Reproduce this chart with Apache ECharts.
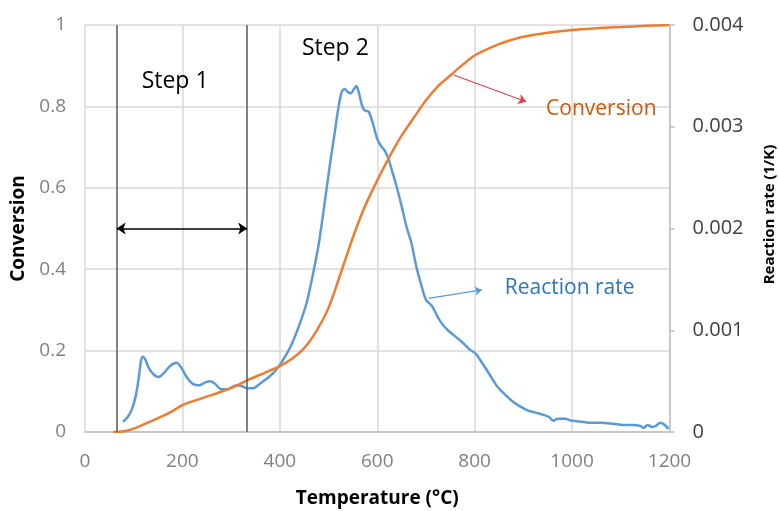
<!DOCTYPE html>
<html>
<head>
<meta charset="utf-8">
<script src="https://cdn.jsdelivr.net/npm/echarts@6/dist/echarts.min.js"></script>
<style>html,body{margin:0;padding:0;background:#fff}#c{width:778px;height:511px}</style>
</head>
<body>
<div id="c"></div>
<script>
// Conversion (left axis) : [temperature °C, conversion]
var conversion = [
  [58,0],[80,0.002],[100,0.008],[125,0.021],[150,0.034],[175,0.048],[200,0.066],[225,0.077],
  [250,0.087],[275,0.097],[300,0.108],[335,0.128],[370,0.146],[400,0.162],[425,0.180],[450,0.206],
  [475,0.248],[500,0.305],[525,0.390],[550,0.478],[575,0.555],[600,0.618],[625,0.676],[650,0.728],
  [675,0.772],[700,0.815],[725,0.850],[750,0.876],[775,0.902],[800,0.925],[825,0.940],[850,0.953],
  [875,0.963],[900,0.971],[950,0.981],[1000,0.988],[1050,0.992],[1100,0.995],[1150,0.998],[1200,1.0]
];
// Reaction rate (right axis) : [temperature °C, rate 1/K]
var reactionRate = [
  [78,0.00010],[88,0.00015],[96,0.00022],[104,0.00035],[110,0.00052],[115,0.00070],[119,0.00074],
  [124,0.00071],[132,0.00062],[142,0.00056],[151,0.00054],[162,0.00058],[175,0.00065],[188,0.00068],
  [198,0.00063],[210,0.00053],[222,0.00047],[235,0.00046],[248,0.00049],[258,0.00050],[268,0.00047],
  [280,0.00042],[292,0.00042],[302,0.00044],[312,0.00046],[322,0.00045],[334,0.00043],[345,0.00043],
  [358,0.00047],[372,0.00052],[387,0.00058],[400,0.00066],[412,0.00075],[425,0.00087],[440,0.00105],
  [455,0.00127],[468,0.00155],[480,0.00185],[492,0.00225],[502,0.00260],[512,0.00292],[520,0.00318],
  [527,0.00334],[533,0.00337],[540,0.00334],[546,0.00333],[552,0.00337],[557,0.00340],[562,0.00334],
  [568,0.00322],[574,0.00316],[582,0.00315],[590,0.00305],[600,0.00288],[608,0.00281],[616,0.00276],
  [624,0.00267],[632,0.00254],[640,0.00241],[650,0.00222],[660,0.00202],[670,0.00186],[680,0.00163],
  [690,0.00145],[700,0.00130],[712,0.00124],[722,0.00115],[732,0.00107],[745,0.00100],[760,0.00094],
  [775,0.00088],[790,0.00081],[802,0.00077],[815,0.00068],[830,0.00057],[846,0.00045],[862,0.00037],
  [878,0.00030],[894,0.00025],[910,0.00021],[925,0.00019],[940,0.00017],[952,0.00015],[962,0.00011],
  [970,0.00013],[985,0.00013],[1000,0.00011],[1020,0.00010],[1040,0.00009],[1060,0.00009],[1085,0.00008],
  [1105,0.00007],[1125,0.00007],[1140,0.00006],[1147,0.00004],[1155,0.00007],[1165,0.00005],[1172,0.00006],
  [1181,0.00009],[1190,0.00007],[1198,0.00003]
];
// Step boundaries (°C) and annotation anchors (in temperature / conversion units)
var stepBounds = [65, 333];
var stepArrowLevel = 0.5;
var stepLabels = [{text:'Step 1', x:185, y:0.861}, {text:'Step 2', x:514, y:0.943}];
var convLabel = {text:'Conversion', x:1060, y:0.793};
var rateLabel = {text:'Reaction rate', x:995, y:0.354};
var convArrow = [[757,0.877],[906,0.8115]];
var rateArrow = [[705,0.3285],[815,0.349]];

var FONT = 'Open Sans';
var chart = echarts.init(document.getElementById('c'));
chart.setOption({
  animation: false,
  grid: {left: 85, right: 108.5, top: 25, bottom: 79, containLabel: false, outerBoundsMode: 'none'},
  xAxis: {
    type: 'value', min: 0, max: 1200, interval: 200,
    name: 'Temperature (°C)', nameLocation: 'middle', nameGap: 57,
    nameTextStyle: {fontFamily: FONT, fontWeight: 'bold', fontSize: 19, color: '#000'},
    axisLine: {show: true, lineStyle: {color: '#bfbfbf', width: 1.5}},
    axisTick: {show: false},
    axisLabel: {fontFamily: FONT, fontSize: 19, color: '#808080', margin: 20,
      formatter: function (v) { return String(v); }},
    splitLine: {show: true, lineStyle: {color: '#d9d9d9', width: 1.5}}
  },
  yAxis: [{
    type: 'value', min: 0, max: 1, interval: 0.2,
    name: 'Conversion', nameLocation: 'middle', nameGap: 52,
    nameTextStyle: {fontFamily: FONT, fontWeight: 'bold', fontSize: 19, color: '#000'},
    axisLine: {show: false}, axisTick: {show: false},
    axisLabel: {fontFamily: FONT, fontSize: 19, color: '#808080', margin: 19,
      formatter: function (v) { return String(v); }},
    splitLine: {show: true, lineStyle: {color: '#d9d9d9', width: 1.5}}
  }, {
    type: 'value', min: 0, max: 0.004, interval: 0.001,
    name: 'Reaction rate (1/K)', nameLocation: 'middle', nameGap: 93,
    nameTextStyle: {fontFamily: FONT, fontWeight: 'bold', fontSize: 15, color: '#000', padding: [0, 0, 0, 28]},
    axisLine: {show: true, lineStyle: {color: '#bfbfbf', width: 1.5}},
    axisTick: {show: true, length: 5, lineStyle: {color: '#bfbfbf', width: 1.5}},
    axisLabel: {fontFamily: FONT, fontSize: 20, color: '#404040', margin: 23,
      formatter: function (v) { return String(v); }},
    splitLine: {show: false}
  }],
  series: [{
    name: 'Reaction rate', type: 'line', yAxisIndex: 1, data: reactionRate,
    showSymbol: false, smooth: 0.3, z: 3,
    lineStyle: {color: '#5b9bd5', width: 2.5}
  }, {
    name: 'Conversion', type: 'line', yAxisIndex: 0, data: conversion,
    showSymbol: false, smooth: 0.3, z: 4,
    lineStyle: {color: '#ed7d31', width: 2.5},
    markLine: {
      silent: true, symbol: ['none', 'none'], label: {show: false},
      lineStyle: {color: '#595959', width: 1.5, type: 'solid'},
      data: stepBounds.map(function (v) { return {xAxis: v}; })
    }
  }, {
    name: 'annotations', type: 'line', yAxisIndex: 0, data: [],
    markLine: {
      silent: true, label: {show: false}, symbolSize: 9,
      data: [
        [{coord: [stepBounds[0], stepArrowLevel], symbol: 'arrow', lineStyle: {color: '#000', width: 1.5, type: 'solid'}},
         {coord: [stepBounds[1], stepArrowLevel], symbol: 'arrow'}],
        [{coord: convArrow[0], symbol: 'none', lineStyle: {color: '#d9424f', width: 1.2, type: 'solid'}},
         {coord: convArrow[1], symbol: 'arrow', symbolSize: 8}],
        [{coord: rateArrow[0], symbol: 'none', lineStyle: {color: '#5b9bd5', width: 1.2, type: 'solid'}},
         {coord: rateArrow[1], symbol: 'arrow', symbolSize: 7}]
      ]
    },
    markPoint: {
      silent: true, symbol: 'circle', symbolSize: 0,
      data: stepLabels.map(function (s) {
        return {coord: [s.x, s.y], label: {show: true, position: 'inside', formatter: s.text,
          fontFamily: FONT, fontSize: 23, color: '#000'}};
      }).concat([
        {coord: [convLabel.x, convLabel.y], label: {show: true, position: 'inside', formatter: convLabel.text,
          fontFamily: FONT, fontSize: 21, color: '#c55a11'}},
        {coord: [rateLabel.x, rateLabel.y], label: {show: true, position: 'inside', formatter: rateLabel.text,
          fontFamily: FONT, fontSize: 21, color: '#2e75b6'}}
      ])
    }
  }]
});
</script>
</body>
</html>
